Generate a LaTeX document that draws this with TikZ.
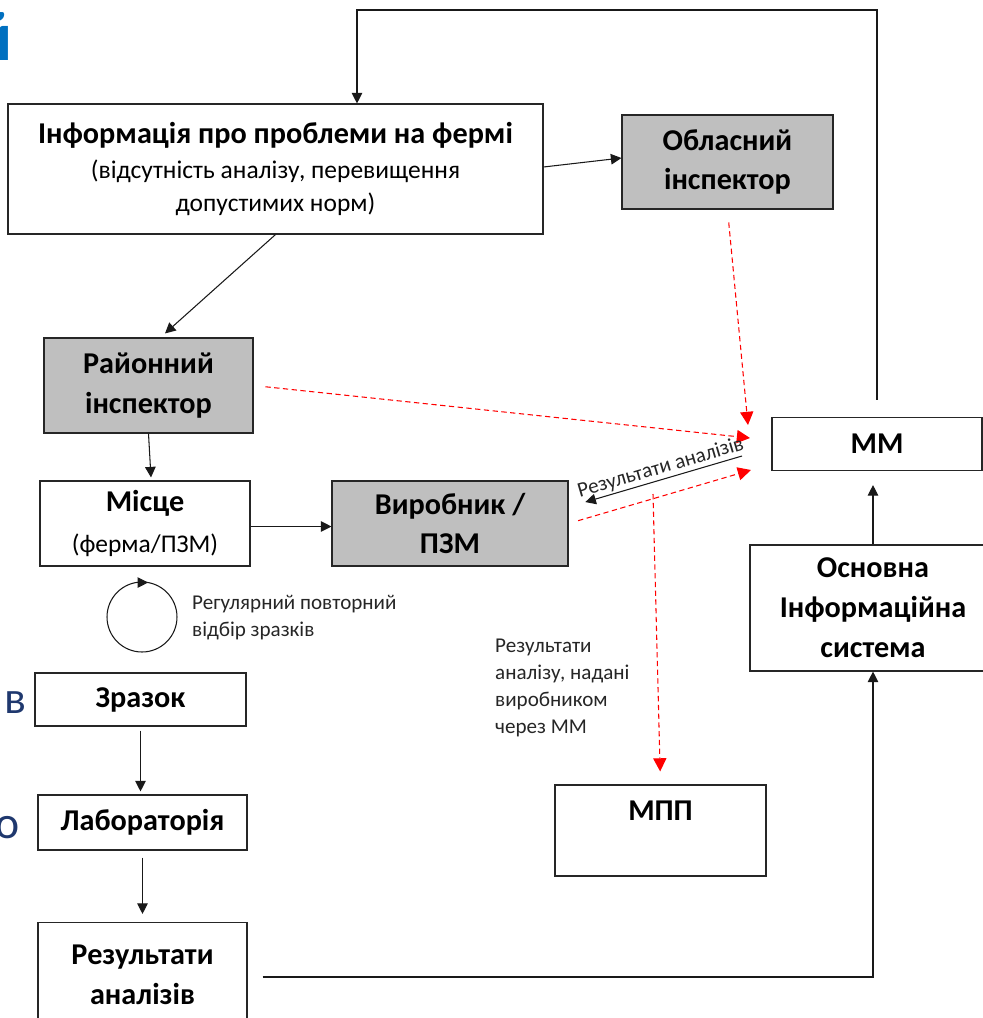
\documentclass[tikz,border=0pt]{standalone}
\usepackage{fontspec}
\setmainfont{Carlito}
\usepackage{tikz}
\usetikzlibrary{arrows.meta}
\definecolor{boxgrey}{RGB}{191,191,191}
\definecolor{slideblue}{RGB}{0,112,192}
\definecolor{slidenavy}{RGB}{31,56,110}
\tikzstyle{box}=[draw=black!85,line width=.65pt,align=center,inner sep=2pt,font=\fontsize{17.2}{22.7}\selectfont\bfseries]
\tikzstyle{greyfill}=[fill=boxgrey]
\tikzstyle{arr}=[-{Triangle[length=6pt,width=6pt]},line width=.6pt,black!90]
\tikzstyle{redarr}=[-{Triangle[length=7.5pt,width=7.5pt]},red,densely dashed,line width=.6pt]
\tikzstyle{note}=[font=\fontsize{12}{15.3}\selectfont,align=left,text=black!85]
\newcommand{\lite}{\fontsize{14.5}{18}\selectfont\mdseries}

\begin{document}
\begin{tikzpicture}[x=0.02cm,y=-0.02cm]
\useasboundingbox (0,0) rectangle (983,1018);
    % boxes
    \node [box,minimum width=10.7cm,minimum height=2.6cm] (info) at (275.5,169)
      {Інформація про проблеми на фермі\\[-3pt]{\lite (відсутність аналізу, перевищення}\\[-4pt]{\lite допустимих норм)}};
    \node [box,greyfill,minimum width=4.22cm,minimum height=1.88cm] (obl) at (727.5,162) {Обласний\\інспектор};
    \node [box,greyfill,minimum width=4.18cm,minimum height=1.9cm] (ray) at (148.5,385.5) {Районний\\інспектор};
    \node [box,minimum width=4.2cm,minimum height=1.7cm] (mis) at (145,523.5) {Місце\\[1pt]{\lite (ферма/ПЗМ)}};
    \node [box,greyfill,minimum width=4.72cm,minimum height=1.7cm] (vyr) at (450,523.5) {Виробник /\\ПЗМ};
    \node [box,minimum width=4.2cm,minimum height=1.06cm] (mm) at (877,444) {ММ};
    \node [box,minimum width=4.92cm,minimum height=2.52cm] (ois) at (873,608) {Основна\\Інформаційна\\система};
    \node [box,minimum width=4.22cm,minimum height=1.06cm] (zr) at (140.5,699.5) {Зразок};
    \node [box,minimum width=4.18cm,minimum height=1.1cm] (lab) at (142.5,822.5) {Лабораторія};
    \node [box,minimum width=4.18cm,minimum height=2.1cm] (res) at (142.5,975) {Результати\\аналізів};
    \node [box,minimum width=4.22cm,minimum height=1.82cm] (mpp) at (660.5,830.5) {МПП\\\mbox{}};

    % notes
    \node [note,anchor=west] (reg) at (186,618) {Регулярний повторний\\відбір зразків};
    \node [note,anchor=west] (mppnote) at (489,688) {Результати\\аналізу, надані\\виробником\\через ММ};
    \node [font=\fontsize{26}{30}\selectfont,text=slidenavy,inner sep=0pt] (v) at (15,703) {в};
    \node [font=\fontsize{26}{30}\selectfont,text=slidenavy,inner sep=0pt] (o) at (8,828) {о};
    \node [font=\fontsize{40}{44}\selectfont\bfseries,text=slideblue,inner sep=0pt,anchor=east] (yi) at (13,37) {й};

    % black connectors
    \coordinate (tr) at (877,10);
    \coordinate (tl) at (357,10);
    \draw [arr] ([yshift=.34cm]mm.north) -- (tr) -- (tl) -- (tl |- info.north);
    \draw [arr] ([yshift=.04cm]info.east) -- ([yshift=.08cm]obl.west);
    \draw [arr] (info.south) -- ([xshift=.33cm,yshift=.08cm]ray.north);
    \draw [arr] (ray.south) -- ([xshift=.12cm,yshift=.06cm]mis.north);
    \draw [arr] ([yshift=-.06cm]mis.east) -- ([yshift=-.06cm]vyr.west);
    \draw [arr,shorten <=.08cm,shorten >=.06cm] (zr.south) -- (zr.south |- lab.north);
    \draw [arr,shorten <=.14cm,shorten >=.16cm] (lab.south) -- (lab.south |- res.north);
    \draw [arr,shorten <=.3cm] ([yshift=-.04cm]res.east) -| (ois.south);
    \draw [arr,shorten >=.28cm] (ois.north) -- (ois.north |- mm.south);

    % sampling loop
    \coordinate (cyc) at (142,617);
    \draw [line width=.6pt,black!90] (cyc) circle [radius=0.7cm];
    \draw [arr] ([shift={(100:0.7cm)}]cyc) -- ([shift={(80:0.7cm)}]cyc);

    % red dashed connectors
    \coordinate (p1) at (748,425);
    \coordinate (p2) at (750,438);
    \coordinate (p3) at (751,470);
    \coordinate (q) at (742,456);
    \coordinate (p4) at (653,494);
    \draw [redarr,shorten <=.26cm] (obl.south) -- (p1);
    \draw [redarr,shorten <=.24cm] (ray.east) -- (p2);
    \draw [redarr,shorten <=.2cm] (vyr.east) -- (p3);
    \draw [redarr,shorten >=.26cm] (p4) -- (mpp.north);
    \draw [arr,shorten >=.35cm] (q) -- node [pos=.45,above,sloped,note,inner sep=1pt] (rlbl) {Результати аналізів} ([yshift=.33cm]vyr.east);
\end{tikzpicture}
\end{document}
